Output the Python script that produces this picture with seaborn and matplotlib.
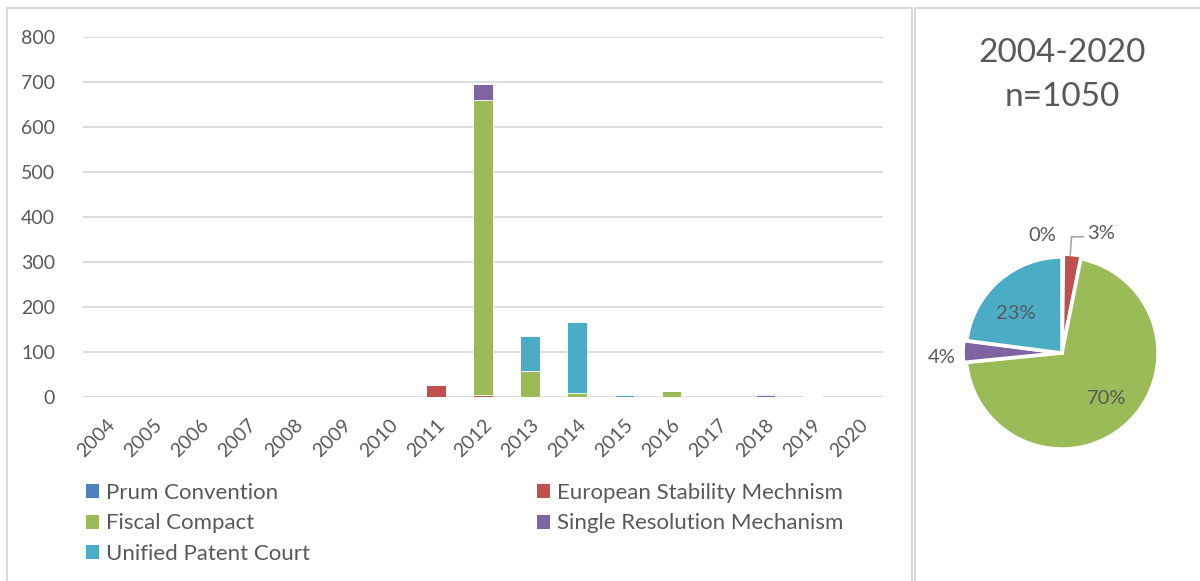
import numpy as np
import pandas as pd
import matplotlib
matplotlib.use("Agg")
import matplotlib.pyplot as plt
import seaborn as sns
from matplotlib.patches import Patch, Rectangle
from matplotlib.lines import Line2D

years = [str(y) for y in range(2004, 2021)]
series = ["Prum Convention", "European Stability Mechnism", "Fiscal Compact",
          "Single Resolution Mechanism", "Unified Patent Court"]
prum   = [0, 0, 0, 0, 0, 0, 0, 0, 1, 0, 0, 0, 0, 0, 1, 0, 0]
esm    = [0, 0, 0, 0, 0, 0, 0, 27, 4, 0, 0, 0, 0, 0, 0, 0, 0]
fiscal = [0, 0, 0, 0, 0, 0, 0, 0, 656, 57, 10, 0, 13, 0, 0, 2, 0]
srm    = [0, 0, 0, 0, 0, 0, 0, 0, 35, 0, 0, 0, 0, 0, 3, 0, 0]
upc    = [0, 0, 0, 0, 0, 0, 0, 0, 0, 78, 157, 4, 0, 0, 2, 0, 0]
colors = ["#4F81BD", "#C0504D", "#9BBB59", "#8064A2", "#4BACC6"]
pie_title = "2004-2020\nn=1050"
yticks = list(range(0, 801, 100))

values = [prum, esm, fiscal, srm, upc]
txt = "#595959"

sns.set_theme(style="white")
plt.rcParams["font.family"] = ["Lato", "DejaVu Sans"]

W, H = 1200, 581
fig = plt.figure(figsize=(W / 100, H / 100), dpi=100)

# panel borders
def px_rect(x0, y0, x1, y1):
    fig.patches.append(Rectangle((x0 / W, 1 - y1 / H), (x1 - x0) / W, (y1 - y0) / H,
                                 transform=fig.transFigure, fill=False,
                                 edgecolor="#D9D9D9", linewidth=1.5))
px_rect(7, 8, 912, 590)
px_rect(915, 8, 1205, 590)

# bar chart
ax = fig.add_axes([83 / W, 1 - 397 / H, 800 / W, 360 / H])
df = pd.DataFrame({"year": years})
bottom = np.zeros(len(years))
for name, vals, c in zip(series, values, colors):
    df["v"] = vals
    sns.barplot(data=df, x="year", y="v", order=years, color=c, width=0.41,
                bottom=bottom.copy(), ax=ax, edgecolor="white", linewidth=0.6,
                saturation=1)
    bottom += np.array(vals)
ax.set_ylim(0, 800)
ax.set_xlim(-0.5, len(years) - 0.5)
ax.set_yticks(yticks)
ax.yaxis.grid(True, color="#D9D9D9", linewidth=1.3)
ax.set_axisbelow(True)
for s in ax.spines.values():
    s.set_visible(False)
ax.set_xlabel("")
ax.set_ylabel("")
ax.tick_params(axis="y", labelsize=14, colors=txt, pad=20, length=0)
ax.tick_params(axis="x", labelsize=14, colors=txt, pad=14, length=0)
for lab in ax.get_xticklabels():
    lab.set_rotation(45)
    lab.set_ha("right")
    lab.set_va("top")
    lab.set_rotation_mode("anchor")

# legends
h = [Patch(facecolor=c, edgecolor="none") for c in colors]
leg_kw = dict(frameon=False, fontsize=16, handlelength=0.6, handleheight=0.6,
              handletextpad=0.3, labelspacing=0.47, borderpad=0, borderaxespad=0,
              labelcolor=txt, loc="upper left")
l1 = fig.legend([h[0], h[2], h[4]], [series[0], series[2], series[4]],
                bbox_to_anchor=(86 / W, 1 - 483 / H), **leg_kw)
l2 = fig.legend([h[1], h[3]], [series[1], series[3]],
                bbox_to_anchor=(537 / W, 1 - 483 / H), **leg_kw)

# pie
R = 96
half = 140
cx, cy = 1062, 353
pax = fig.add_axes([(cx - half) / W, 1 - (cy + half) / H, 2 * half / W, 2 * half / H])
totals = [sum(v) for v in values]
explode = [0.0, 0.03, 0.0, 0.03, 0.0]
wedges, _ = pax.pie(totals, colors=colors, startangle=90, counterclock=False,
                    radius=1, explode=explode,
                    wedgeprops=dict(edgecolor="white", linewidth=2.5))
pax.set_xlim(-half / R, half / R)
pax.set_ylim(-half / R, half / R)
pax.set_aspect("equal")
pax.axis("off")
tot = sum(totals)
label_r = [1.24, 1.31, 0.66, 1.25, 0.635]
label_dang = [10, -12, 2, 3, 8]
for w, t, r, da in zip(wedges, totals, label_r, label_dang):
    ang = np.deg2rad((w.theta1 + w.theta2) / 2 + da)
    pax.text(r * np.cos(ang), r * np.sin(ang), f"{round(100 * t / tot):d}%",
             ha="center", va="center", fontsize=14.5, color=txt)
# leader line for the small red slice
pax.add_line(Line2D([0.085, 0.1, 0.22], [1.02, 1.21, 1.21], color="#A6A6A6", linewidth=1.2))

fig.text(cx / W, 1 - 75 / H, pie_title, ha="center", va="center", fontsize=24,
         color=txt, linespacing=1.55)

fig.savefig("out.png", dpi=100)
